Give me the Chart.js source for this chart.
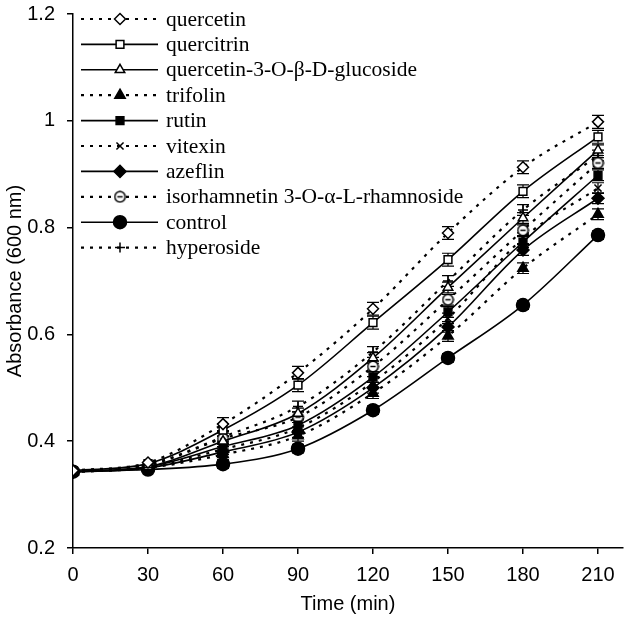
<!DOCTYPE html>
<html>
<head>
<meta charset="utf-8">
<script src="https://cdn.jsdelivr.net/npm/chart.js@4"></script>
<style>
  html, body { margin: 0; padding: 0; background: #fff; }
  #wrap { width: 631px; height: 626px; }
</style>
</head>
<body>
<div id="wrap"><canvas id="chart" width="631" height="626"></canvas></div>
<script>
// time points (min)
const times = [0, 30, 60, 90, 120, 150, 180, 210]

// absorbance at 600 nm
const quercetin    = [0.345, 0.360, 0.432, 0.528, 0.648, 0.790, 0.913, 0.998]
const quercitrin   = [0.345, 0.358, 0.421, 0.505, 0.622, 0.740, 0.868, 0.970]
const q3glucoside  = [0.343, 0.352, 0.400, 0.452, 0.556, 0.688, 0.818, 0.945]
const trifolin     = [0.342, 0.350, 0.375, 0.410, 0.490, 0.597, 0.724, 0.825]
const rutin        = [0.343, 0.352, 0.390, 0.430, 0.520, 0.642, 0.773, 0.898]
const vitexin      = [0.343, 0.352, 0.385, 0.425, 0.511, 0.630, 0.780, 0.874]
const azeflin      = [0.342, 0.350, 0.380, 0.417, 0.500, 0.614, 0.758, 0.855]
const isorhamnetin = [0.344, 0.355, 0.405, 0.445, 0.540, 0.665, 0.795, 0.921]
const control      = [0.343, 0.347, 0.357, 0.386, 0.458, 0.556, 0.655, 0.786]
const hyperoside   = [0.344, 0.356, 0.408, 0.465, 0.567, 0.700, 0.833, 0.935]

// error bar half-heights (one per series)
const errors = [0.012, 0.012, 0.010, 0.010, 0.010, 0.010, 0.010, 0.010, 0.008, 0.010]

const labels = ['quercetin', 'quercitrin', 'quercetin-3-O-\u03b2-D-glucoside', 'trifolin', 'rutin',
                'vitexin', 'azeflin', 'isorhamnetin 3-O-\u03b1-L-rhamnoside', 'control', 'hyperoside']
const values = [quercetin, quercitrin, q3glucoside, trifolin, rutin, vitexin, azeflin, isorhamnetin, control, hyperoside]

// open circle with a bar inside (isorhamnetin marker)
function circleMinus() {
    const c = document.createElement('canvas')
    c.width = 13; c.height = 13
    const g = c.getContext('2d')
    g.fillStyle = '#fff'
    g.strokeStyle = '#000'
    g.lineWidth = 1.5
    g.beginPath(); g.arc(6.5, 6.5, 5.2, 0, Math.PI * 2); g.fill(); g.stroke()
    g.beginPath(); g.moveTo(3.8, 6.5); g.lineTo(9.2, 6.5); g.stroke()
    return c
}

const styles = [
    {dash: true,  point: 'rectRot',  fill: '#fff', r: 5.5},
    {dash: false, point: 'rect',     fill: '#fff', r: 5.5},
    {dash: false, point: 'triangle', fill: '#fff', r: 5.5},
    {dash: true,  point: 'triangle', fill: '#000', r: 6},
    {dash: false, point: 'rect',     fill: '#000', r: 5.5},
    {dash: true,  point: 'crossRot', fill: '#000', r: 5},
    {dash: false, point: 'rectRot',  fill: '#000', r: 6},
    {dash: true,  point: circleMinus(), fill: '#fff', r: 6},
    {dash: false, point: 'circle',   fill: '#000', r: 6.5},
    {dash: true,  point: 'cross',    fill: '#000', r: 5}
]

const datasets = values.map((v, i) => ({
    label: labels[i],
    data: v.map((y, j) => ({x: times[j], y: y})),
    borderColor: '#000',
    borderWidth: styles[i].dash ? 2.2 : 1.6,
    borderDash: styles[i].dash ? [3, 6] : [],
    pointStyle: styles[i].point,
    pointRadius: styles[i].r,
    pointBackgroundColor: styles[i].fill,
    pointBorderColor: '#000',
    pointBorderWidth: 1.5,
    cubicInterpolationMode: 'monotone',
    fill: false
}))

const errorBars = {
    id: 'errorBars',
    beforeDatasetsDraw(chart) {
        const ctx = chart.ctx
        const xs = chart.scales.x, ys = chart.scales.y
        ctx.save()
        ctx.strokeStyle = '#000'
        ctx.lineWidth = 1.2
        ctx.setLineDash([])
        values.forEach((v, i) => {
            v.forEach((y, j) => {
                if (j < 2) return
                const px = xs.getPixelForValue(times[j])
                const top = ys.getPixelForValue(y + errors[i])
                const bot = ys.getPixelForValue(y - errors[i])
                ctx.beginPath()
                ctx.moveTo(px, top); ctx.lineTo(px, bot)
                ctx.moveTo(px - 6, top); ctx.lineTo(px + 6, top)
                ctx.moveTo(px - 6, bot); ctx.lineTo(px + 6, bot)
                ctx.stroke()
            })
        })
        ctx.restore()
    }
}

const legendBox = {
    id: 'legendBox',
    afterDraw(chart) {
        const ctx = chart.ctx
        ctx.save()
        ctx.font = '21.5px "Liberation Serif", "Times New Roman", serif'
        ctx.textBaseline = 'middle'
        ctx.fillStyle = '#000'
        labels.forEach((name, i) => {
            const y = 19 + i * 25.4
            const s = styles[i]
            ctx.strokeStyle = '#000'
            ctx.lineWidth = s.dash ? 2.2 : 1.6
            ctx.setLineDash(s.dash ? [3, 6] : [])
            ctx.beginPath(); ctx.moveTo(81, y); ctx.lineTo(158, y); ctx.stroke()
            ctx.setLineDash([])
            ctx.fillStyle = s.fill
            ctx.lineWidth = 1.5
            Chart.helpers.drawPoint(ctx, {pointStyle: s.point, radius: s.r, rotation: 0, borderWidth: 1.5}, 120, y)
            ctx.fillStyle = '#000'
            ctx.fillText(name, 166, y + 1)
        })
        ctx.restore()
    }
}

const axisFont = { family: '"Liberation Sans", Arial, sans-serif', size: 20 }

const ctx = document.getElementById('chart').getContext('2d')
const chart = new Chart(ctx, {
    type: 'line',
    data: { datasets: datasets },
    plugins: [errorBars, legendBox],
    options: {
        responsive: false,
        animation: false,
        layout: { padding: { top: 14, right: 8, left: 0, bottom: 0 } },
        plugins: { legend: { display: false }, tooltip: { enabled: false } },
        scales: {
            x: {
                type: 'linear',
                min: 0,
                max: 220,
                border: { color: '#000', width: 1.5 },
                grid: { drawOnChartArea: false, color: '#000', tickLength: 6, lineWidth: 1.5 },
                ticks: { stepSize: 30, includeBounds: false, color: '#000', padding: 9, font: axisFont },
                title: { display: true, text: 'Time (min)', color: '#000', padding: { top: 0, bottom: 10 }, font: axisFont },
                afterFit(scale) { scale.height = 78 }
            },
            y: {
                min: 0.2,
                max: 1.2,
                border: { color: '#000', width: 1.5 },
                grid: { drawOnChartArea: false, color: '#000', tickLength: 6, lineWidth: 1.5 },
                ticks: { stepSize: 0.2, color: '#000', padding: 12, font: axisFont,
                         callback: v => String(Math.round(v * 10) / 10) },
                title: { display: true, text: 'Absorbance (600 nm)', color: '#000', padding: { top: 3, bottom: 0 }, font: axisFont },
                afterFit(scale) {
                    scale.width = 73
                    scale.paddingTop = 0
                    scale.paddingBottom = 0
                }
            }
        }
    }
})
</script>
</body>
</html>
